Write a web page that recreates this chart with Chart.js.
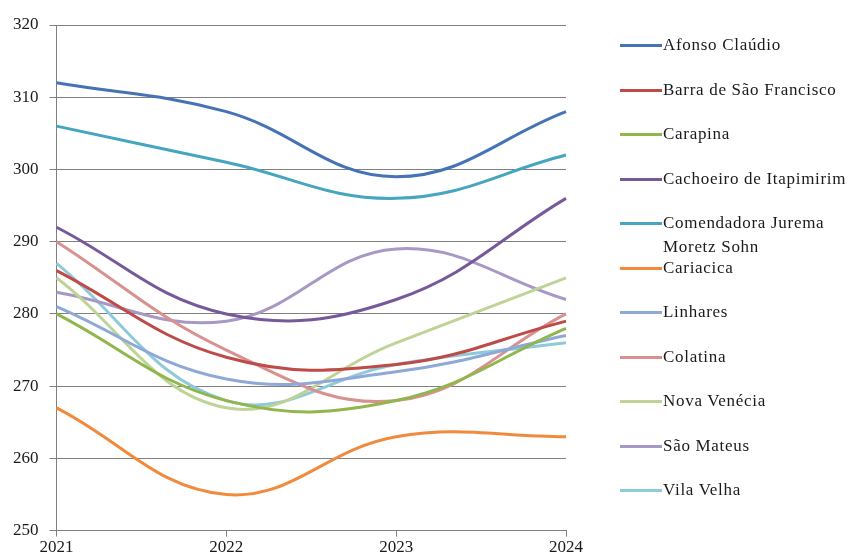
<!DOCTYPE html>
<html>
<head>
  <meta charset="utf-8">
  <title>Municípios 2021-2024</title>
  <script src="https://cdn.jsdelivr.net/npm/chart.js"></script>
  <style>
    body { margin: 0; background: #fff; }
    #wrap { position: relative; width: 856px; height: 559px; }
    #legend { position: absolute; left: 620px; top: 33px; width: 236px;
      font-family: "Liberation Serif", serif; font-size: 17px; color: #1a1a1a; letter-spacing: 0.7px; }
    .item { position: relative; height: 44.5px; }
    .item span.sw { position: absolute; left: 0; top: 11px; width: 42px; height: 3px; }
    .item span.tx { position: absolute; left: 43px; top: 0; width: 193px; line-height: 24px; }
  </style>
</head>
<body>
<div id="wrap">
  <canvas id="myChart" width="856" height="559"></canvas>
  <div id="legend"></div>
</div>
<script>
var years = ['2021', '2022', '2023', '2024'];

var names = ['Afonso Claúdio', 'Barra de São Francisco', 'Carapina', 'Cachoeiro de Itapimirim',
  'Comendadora Jurema Moretz Sohn', 'Cariacica', 'Linhares', 'Colatina', 'Nova Venécia',
  'São Mateus', 'Vila Velha'];

var afonso = [312, 308, 299, 308];
var barra = [286, 274, 273, 279];
var carapina = [280, 268, 268, 278];
var cachoeiro = [292, 280, 282, 296];
var comendadora = [306, 301, 296, 302];
var cariacica = [267, 255, 263, 263];
var linhares = [281, 271, 272, 277];
var colatina = [290, 275, 268, 280];
var novaVenecia = [285, 267, 276, 285];
var saoMateus = [283, 279, 289, 282];
var vilaVelha = [287, 268, 273, 276];

var colors = ['#4573B3', '#BE4B48', '#91B64E', '#76599B', '#46A5BF', '#F08A3C',
  '#8EA9D8', '#D9918F', '#BED497', '#A898C4', '#8FCADB'];

var series = [afonso, barra, carapina, cachoeiro, comendadora, cariacica,
  linhares, colatina, novaVenecia, saoMateus, vilaVelha];

var datasets = series.map(function (vals, i) {
  return {
    label: names[i],
    data: vals,
    borderColor: colors[i],
    backgroundColor: colors[i],
    borderWidth: 3,
    tension: 0.4,
    pointRadius: 0,
    fill: false
  };
});

var ctx = document.getElementById('myChart').getContext('2d');
var myChart = new Chart(ctx, {
  type: 'line',
  data: { labels: years, datasets: datasets },
  options: {
    responsive: false,
    animation: false,
    layout: { padding: { top: 25, right: 290, left: 2, bottom: 0 } },
    plugins: { legend: { display: false }, tooltip: { enabled: false } },
    scales: {
      x: {
        offset: false,
        grid: { drawOnChartArea: false, color: '#808080', tickLength: 6 },
        border: { color: '#808080', width: 1 },
        ticks: { color: '#1a1a1a', padding: 1, maxRotation: 0,
          font: { family: 'Liberation Serif', size: 17 } }
      },
      y: {
        min: 250,
        max: 320,
        grid: { color: '#808080', tickLength: 7 },
        border: { color: '#808080', width: 1 },
        ticks: { stepSize: 10, color: '#1a1a1a', padding: 11,
          font: { family: 'Liberation Serif', size: 17 } }
      }
    }
  }
});

var legend = document.getElementById('legend');
names.forEach(function (n, i) {
  var d = document.createElement('div');
  d.className = 'item';
  d.innerHTML = '<span class="sw" style="background:' + colors[i] + '"></span><span class="tx"></span>';
  d.querySelector('.tx').textContent = n;
  legend.appendChild(d);
});
</script>
</body>
</html>
